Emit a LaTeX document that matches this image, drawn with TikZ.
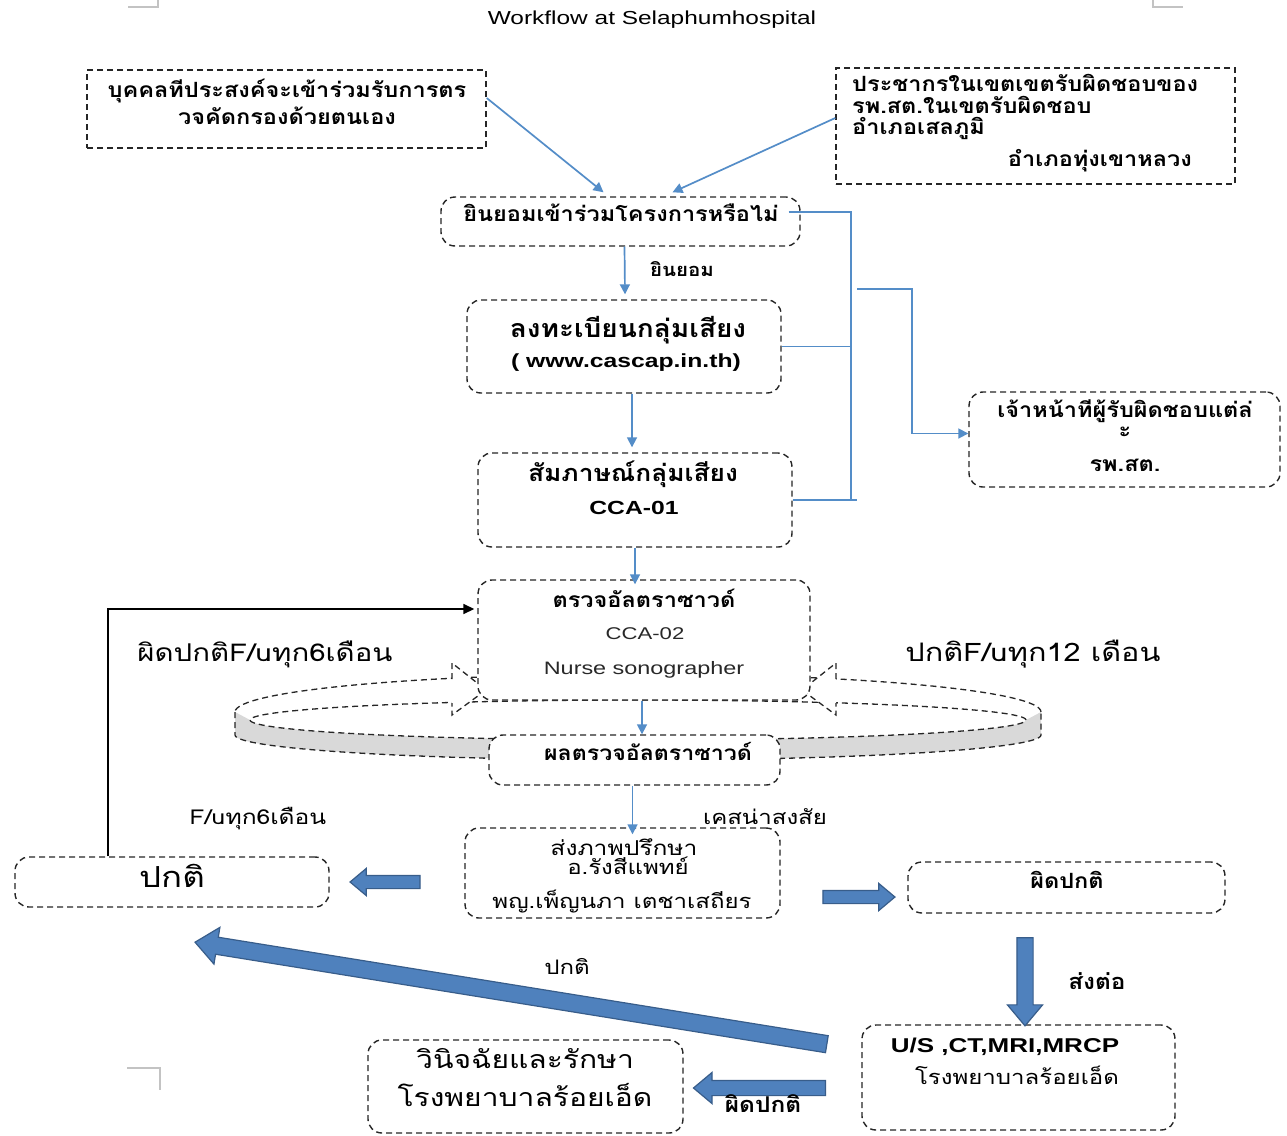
\documentclass[tikz,border=0pt]{standalone}
\usepackage{fontspec}
\setmainfont{Liberation Sans}[FakeStretch=1.3]
\newfontfamily\thai[Script=Thai,FakeStretch=1.2,BoldFeatures={FakeStretch=1.12}]{Loma}
\usetikzlibrary{arrows.meta,shapes.arrows,calc}
\definecolor{lineblue}{RGB}{84,141,200}
\definecolor{arrfill}{RGB}{79,129,189}
\definecolor{arrdraw}{RGB}{56,93,138}
\definecolor{ringgray}{RGB}{217,217,217}
\definecolor{markgray}{RGB}{195,195,195}
\definecolor{softblack}{RGB}{40,40,40}
\tikzset{
 sqbox/.style={draw=black!85, dash pattern=on 6pt off 4pt, line width=1.4pt, fill=white, inner sep=0pt},
 rdbox/.style={sqbox, rounded corners=14pt},
 ringline/.style={draw=black!85, dash pattern=on 6pt off 4pt, line width=1.3pt},
 tx/.style={inner sep=0pt, anchor=base},
 thn/.style={tx, font=\thai\fontsize{20}{24}\selectfont},
 thnb/.style={tx, font=\thai\bfseries\fontsize{21}{24}\selectfont},
 thmid/.style={tx, font=\thai\bfseries\fontsize{#1}{26}\selectfont},
 thbig/.style={tx, font=\thai\fontsize{#1}{30}\selectfont},
 thbold/.style={tx, font=\thai\bfseries\fontsize{#1}{24}\selectfont},
 lat/.style={tx, font=\fontsize{18}{22}\selectfont},
 latb/.style={tx, font=\bfseries\fontsize{19}{22}\selectfont},
 conn/.style={draw=lineblue, line width=1.7pt, -{Triangle[length=10pt,width=10pt]}},
 bus/.style={draw=lineblue, line width=1.7pt},
 blk/.style={draw=black, line width=1.6pt, -{Triangle[length=11pt,width=10pt]}},
 blockarr/.style={single arrow, draw=arrdraw, fill=arrfill, line width=1.2pt,
   minimum height=#1, single arrow head extend=7pt, inner sep=6pt, single arrow tip angle=80},
}
\begin{document}
\begin{tikzpicture}[x=1pt,y=-1pt]
\useasboundingbox (0,0) rectangle (1287,1135);
\fill[white] (0,0) rectangle (1287,1135);

% page corner marks
\draw[markgray, line width=1.5pt] (128,7) -- (158,7) -- (158,0);
\draw[markgray, line width=1.5pt] (1153,0) -- (1153,7) -- (1183,7);
\draw[markgray, line width=1.5pt] (127,1068) -- (160,1068) -- (160,1090);

% title
\node[lat, font=\fontsize{18.8}{22}\selectfont] (title) at (652,24) {Workflow at Selaphumhospital};

% ---- ring (cycle) ----
\fill[ringgray] (235,712) -- (235,735) arc[start angle=180,end angle=360,x radius=403pt,y radius=25pt]
  -- (1041,712) -- (1026,720) arc[start angle=360,end angle=180,x radius=388pt,y radius=20pt] -- cycle;
\draw[ringline] (235,712) -- (235,735) arc[start angle=180,end angle=360,x radius=403pt,y radius=25pt] -- (1041,712);
\draw[ringline] (1041,712) arc[start angle=0,end angle=180,x radius=403pt,y radius=38pt];
\draw[ringline] (638,720) ellipse[x radius=388pt, y radius=20pt];
\filldraw[ringline, fill=white] (452,679) -- (452,663) -- (486,690) -- (452,715) -- (452,703);
\filldraw[ringline, fill=white] (836,679) -- (836,663) -- (802,690) -- (836,715) -- (836,703);

% ---- boxes ----
\node[sqbox, minimum width=399pt, minimum height=78pt] (A) at (286.5,109) {};
\node[thnb] (A1) at (287,97) {บุคคลทีประสงค์จะเข้าร่วมรับการตร};
\node[thnb] (A2) at (287,124) {วจคัดกรองด้วยตนเอง};

\node[sqbox, minimum width=399pt, minimum height=116pt] (B) at (1035.5,126) {};
\node[thnb, anchor=base west] (B1) at (852,91) {ประชากรในเขตเขตรับผิดชอบของ};
\node[thnb, anchor=base west] (B2) at (852,113) {รพ.สต.ในเขตรับผิดชอบ};
\node[thnb, anchor=base west] (B3) at (852,134) {อำเภอเสลภูมิ};
\node[thnb, anchor=base east] (B4) at (1192,166) {อำเภอทุ่งเขาหลวง};

\node[rdbox, minimum width=359pt, minimum height=49pt] (C) at (620.5,221.5) {};
\node[thnb] (C1) at (621,221) {ยินยอมเข้าร่วมโครงการหรือไม่};
\node[thbold=18.3] (Clab) at (682,276) {ยินยอม};

\node[rdbox, minimum width=314pt, minimum height=93pt] (D) at (624,346.5) {};
\node[thmid=25] (D1) at (628,337) {ลงทะเบียนกลุ่มเสียง};
\node[latb] (D2) at (626,367) {( www.cascap.in.th)};

\node[rdbox, minimum width=314pt, minimum height=94pt] (E) at (635,500) {};
\node[thmid=23.5] (E1) at (633,481) {สัมภาษณ์กลุ่มเสียง};
\node[latb] (E2) at (634,514) {CCA-01};

\node[rdbox, minimum width=311pt, minimum height=95pt] (F) at (1124.5,439.5) {};
\node[thnb] (F1) at (1125,417) {เจ้าหน้าทีผู้รับผิดชอบแต่ล่};
\node[thnb] (F2) at (1125,437) {ะ};
\node[thnb] (F3) at (1125,471) {รพ.สต.};

\node[rdbox, minimum width=332pt, minimum height=120pt] (G) at (644,640) {};
\node[thbold=21] (G1) at (644,607) {ตรวจอัลตราซาวด์};
\node[lat, text=softblack, font=\fontsize{17}{20}\selectfont] (G2) at (645,639) {CCA-02};
\node[lat, text=softblack] (G3) at (644,674) {Nurse sonographer};

\node[rdbox, minimum width=291pt, minimum height=50pt] (H) at (634.5,760) {};
\node[thbold=20.7] (H1) at (648,760) {ผลตรวจอัลตราซาวด์};

\node[rdbox, minimum width=315pt, minimum height=90pt] (I) at (622.5,873) {};
\node[thn, font=\thai\fontsize{20.5}{24}\selectfont] (I1) at (624,855) {ส่งภาพปรึกษา};
\node[thn] (I2) at (628,874) {อ.รังสีแพทย์};
\node[thn] (I3) at (622,908) {พญ.เพ็ญนภา เตชาเสถียร};
\node[thn] (Ilab) at (765,824) {เคสน่าสงสัย};

\node[rdbox, minimum width=314pt, minimum height=50pt] (J) at (172,882) {};
\node[thbig=29] (J1) at (172,887) {ปกติ};
\node[thn, font=\thai\fontsize{20.5}{24}\selectfont] (Jlab) at (258,824) {F/uทุก6เดือน};

\node[rdbox, minimum width=317pt, minimum height=51pt] (K) at (1066.5,887.5) {};
\node[thnb] (K1) at (1067,888) {ผิดปกติ};

\node[rdbox, minimum width=313pt, minimum height=105pt] (L) at (1018.5,1077.5) {};
\node[latb, font=\bfseries\fontsize{20}{22}\selectfont] (L1) at (1005,1052) {U/S ,CT,MRI,MRCP};
\node[thn] (L2) at (1017,1084) {โรงพยาบาลร้อยเอ็ด};
\node[thbold=21.8] (Llab) at (1097,989) {ส่งต่อ};

\node[rdbox, minimum width=315pt, minimum height=93pt] (M) at (525.5,1086.5) {};
\node[thbig=25] (M1) at (525,1068) {วินิจฉัยและรักษา};
\node[thbig=25] (M2) at (525,1106) {โรงพยาบาลร้อยเอ็ด};

% loop labels
\node[thbig=24.5] (lab1) at (265,661) {ผิดปกติF/uทุก6เดือน};
\node[thbig=25.5] (lab2) at (1033,661) {ปกติF/uทุก12 เดือน};

% ---- thin connectors ----
\draw[conn] ([yshift=11pt]A.east) -- ([xshift=-17pt,yshift=4pt]C.north);
\draw[conn] ([yshift=8pt]B.west) -- ([xshift=52pt,yshift=4pt]C.north);
\draw[conn] ([xshift=4pt]C.south) -- ([xshift=1pt,yshift=5pt]D.north);
\draw[conn] ([xshift=8pt]D.south) -- ([xshift=-3pt,yshift=5pt]E.north);
\coordinate (bus1) at (851,212);
\coordinate (bus2) at (851,500);
\coordinate (busr) at (857,289);
\draw[bus] ([xshift=-12pt,yshift=9.5pt]C.east) -- (bus1) -- (bus2);
\draw[bus] (D.east) -- (D.east -| bus1);
\draw[bus] (E.east) -- ([xshift=6pt]E.east -| bus1);
\draw[conn] (busr) -- (912,289) |- ([yshift=6pt]F.west);
\draw[conn] (E.south) -- ([yshift=-5pt]E.south |- G.north);
\draw[conn] ([xshift=-2pt]G.south) -- ([xshift=-2pt]G.south |- H.north);
\draw[conn] ([xshift=-2pt]H.south) -- ([xshift=-2pt,yshift=-7pt]H.south |- I.north);
\draw[blk] ([xshift=-64pt]J.north) |- ([yshift=31pt,xshift=-3pt]G.west);

% ---- block arrows ----
\node[blockarr=70pt, shape border rotate=180] (ba1) at (389,882) {};
\node[blockarr=72pt] (ba2) at (855,897) {};
\node[blockarr=88pt, inner sep=7.5pt, single arrow head extend=9.5pt, shape border rotate=270] (ba3) at (1025,977) {};
\node[blockarr=640pt, inner sep=8pt, single arrow head extend=10pt, rotate=170.83] (ba4) at (516,994) {};
\node[blockarr=132pt, inner sep=7pt, single arrow head extend=8pt, shape border rotate=180] (ba5) at (764,1088) {};
\node[thn] (ba4lab) at (567,974) {ปกติ};
\node[thbold=21.8] (ba5lab) at (763,1112) {ผิดปกติ};
\end{tikzpicture}
\end{document}
